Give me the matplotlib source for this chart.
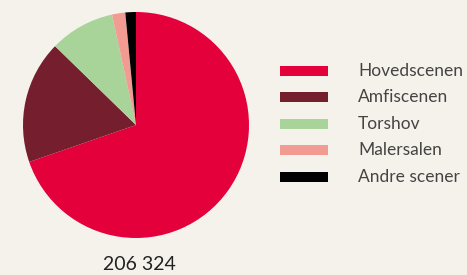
import matplotlib
matplotlib.use("Agg")
import matplotlib.pyplot as plt
from matplotlib.patches import Rectangle

# data
scener = ['Hovedscenen', 'Amfiscenen', 'Torshov', 'Malersalen', 'Andre scener']
besok = [143800, 36300, 19200, 3900, 3124]
farger = ['#E4003A', '#741E2E', '#A8D49A', '#F29B92', '#000000']
total_tekst = '206 324'

bg = '#F5F2EC'
W, H = 467, 275

fig = plt.figure(figsize=(W/100, H/100), dpi=100, facecolor=bg)

# pie axes, center ~ (136,125) px, radius ~113 px
cx, cy, r = 136, 125, 113
ax = fig.add_axes([(cx-r)/W, (H-cy-r)/H, 2*r/W, 2*r/H])
ax.pie(besok, colors=farger, startangle=90, counterclock=False,
       wedgeprops=dict(linewidth=0))
ax.set_xlim(-1, 1)
ax.set_ylim(-1, 1)
ax.set_aspect('equal')
ax.axis('off')

fig.text(139/W, 1-265/H, total_tekst, ha='center', va='center',
         fontsize=14, color='#222222', family='Lato')

# legend drawn by hand
y0, dy = 71, 26.4
for i in range(len(scener)):
    y = y0 + i*dy
    fig.patches.append(Rectangle((280/W, 1-(y+5)/H), 48/W, 10/H,
                                 transform=fig.transFigure, color=farger[i], lw=0))
    fig.text(358/W, 1-y/H, scener[i], ha='left', va='center',
             fontsize=12.5, color='#444444', family='Lato', weight='normal')

fig.savefig('out.png', dpi=100, facecolor=bg)
